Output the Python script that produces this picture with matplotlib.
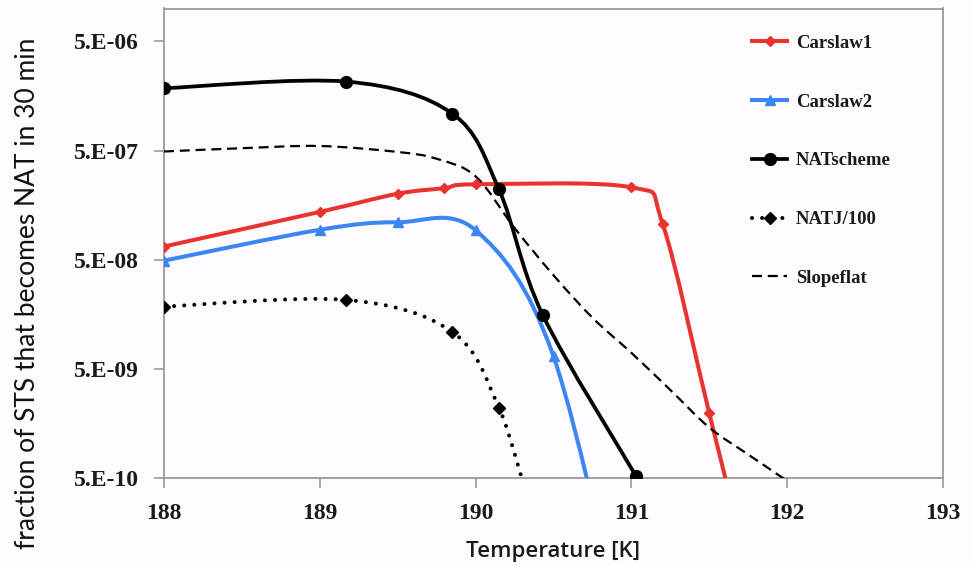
import numpy as np
import matplotlib
matplotlib.use('Agg')
import matplotlib.pyplot as plt
from matplotlib.path import Path
from matplotlib.patches import PathPatch
from matplotlib.lines import Line2D

# ---------------- data ----------------
temps_carslaw1 = [188.0, 189.0, 189.5, 189.8, 190.0, 191.0, 191.2, 191.5, 191.7]
carslaw1 = [6.6e-8, 1.37e-7, 2.01e-7, 2.26e-7, 2.45e-7, 2.3e-7, 1.07e-7, 1.95e-9, 1.4e-10]

temps_carslaw2 = [188.0, 189.0, 189.5, 190.0, 190.5, 191.0]
carslaw2 = [4.9e-8, 9.4e-8, 1.1e-7, 9.3e-8, 6.5e-9, 8e-12]

temps_nat = [188.0, 189.17, 189.85, 190.15, 190.43, 191.03]
natscheme = [1.86e-6, 2.14e-6, 1.09e-6, 2.2e-7, 1.57e-8, 5.2e-10]
natj100 = [1.86e-8, 2.14e-8, 1.09e-8, 2.2e-9, 1.57e-10, 5.2e-12]

temps_slope = [188.0, 188.5, 189.0, 189.5, 189.75, 190.0, 190.25, 190.5, 190.75,
               191.0, 191.25, 191.5, 191.75, 192.0]
slopeflat = [4.9e-7, 5.25e-7, 5.5e-7, 4.85e-7, 4.2e-7, 2.9e-7, 9.75e-8, 3.6e-8, 1.47e-8,
             7.0e-9, 3.2e-9, 1.45e-9, 8.2e-10, 4.7e-10]

series_labels = ['Carslaw1', 'Carslaw2', 'NATscheme', 'NATJ/100', 'Slopeflat']
x_ticks = [188, 189, 190, 191, 192, 193]
y_ticks = [5e-10, 5e-9, 5e-8, 5e-7, 5e-6]
y_tick_labels = ['5.E-10', '5.E-09', '5.E-08', '5.E-07', '5.E-06']

RED = '#e8332f'
BLUE = '#3a86f5'
BLACK = '#000000'
BG = '#fefcfe'


def smooth_path(x, y):
    """Excel-like smoothed line (Catmull-Rom Bezier) in (x, log y) space."""
    P = np.column_stack([np.asarray(x, float), np.log10(np.asarray(y, float))])
    n = len(P)
    verts = [P[0]]
    codes = [Path.MOVETO]
    for i in range(n - 1):
        p0 = P[i - 1] if i > 0 else P[i]
        p1 = P[i]
        p2 = P[i + 1]
        p3 = P[i + 2] if i + 2 < n else P[i + 1]
        c1 = p1 + (p2 - p0) / 6.0
        c2 = p2 - (p3 - p1) / 6.0
        verts += [c1, c2, p2]
        codes += [Path.CURVE4] * 3
    V = np.array(verts)
    V[:, 1] = 10 ** V[:, 1]
    return Path(V, codes)


fig = plt.figure(figsize=(9.73, 5.65), dpi=100, facecolor=BG)
ax = fig.add_axes([164 / 973, 1 - 478 / 565, (943 - 164) / 973, (478 - 8.5) / 565])
ax.set_facecolor(BG)
ax.set_yscale('log')
ax.set_xlim(188, 193)
ax.set_ylim(5e-10, 1e-5)

styles = [
    dict(x=temps_carslaw1, y=carslaw1, color=RED, lw=2.9, ls='-', marker='D', ms=5.5),
    dict(x=temps_carslaw2, y=carslaw2, color=BLUE, lw=2.9, ls='-', marker='^', ms=7),
    dict(x=temps_nat, y=natscheme, color=BLACK, lw=2.7, ls='-', marker='o', ms=8.5),
    dict(x=temps_nat, y=natj100, color=BLACK, lw=2.9, ls=(0, (0.01, 2.5)), marker='D', ms=6),
    dict(x=temps_slope, y=slopeflat, color=BLACK, lw=1.6, ls=(0, (4.5, 2.6)), marker=None, ms=0),
]

handles = []
for st, lab in zip(styles, series_labels):
    patch = PathPatch(smooth_path(st['x'], st['y']), fill=False, edgecolor=st['color'],
                      lw=st['lw'], linestyle=st['ls'], transform=ax.transData,
                      capstyle='round' if lab == 'NATJ/100' else 'butt',
                      joinstyle='round', zorder=3)
    ax.add_patch(patch)
    if st['marker']:
        ax.plot(st['x'], st['y'], linestyle='none', marker=st['marker'], ms=st['ms'],
                color=st['color'], zorder=4)
    h = Line2D([], [], color=st['color'], lw=st['lw'], linestyle=st['ls'],
               marker=st['marker'] if st['marker'] else None, ms=st['ms'],
               dash_capstyle='round' if lab == 'NATJ/100' else 'butt')
    handles.append(h)

ax.set_xticks(x_ticks)
ax.set_xticklabels([str(t) for t in x_ticks])
ax.set_yticks(y_ticks)
ax.set_yticklabels(y_tick_labels)
ax.yaxis.set_minor_locator(matplotlib.ticker.NullLocator())

for lbl in ax.get_xticklabels() + ax.get_yticklabels():
    lbl.set_fontfamily('Liberation Serif')
    lbl.set_fontweight('bold')
    lbl.set_fontsize(17)
    lbl.set_color('#1a1a1a')

ax.tick_params(axis='both', direction='out', length=7, width=1.2, color='#9a9a9a')
ax.tick_params(axis='y', pad=11)
ax.tick_params(axis='x', pad=11)

for sp in ax.spines.values():
    sp.set_color('#9a9a9a')
    sp.set_linewidth(1.3)

ax.set_xlabel('Temperature [K]', fontfamily='Open Sans', fontweight='semibold',
              fontsize=16, color='#1a1a1a')
ax.xaxis.set_label_coords(0.5, (478 - 551) / 469.5)
ax.xaxis.label.set_va('center')

ax.set_ylabel('fraction of STS that becomes NAT in 30 min', fontfamily='Lato',
              fontsize=19, color='#111111', va='center')
ax.yaxis.set_label_coords((28 - 164) / 779, (478 - 293) / 469.5)

leg = ax.legend(handles, series_labels, loc='upper left',
                bbox_to_anchor=((751.7 - 164) / 779, (478 - 34.7) / 469.5),
                frameon=False, borderpad=0, borderaxespad=0,
                handlelength=1.9, handletextpad=0.45, labelspacing=2.22,
                prop={'family': 'Liberation Serif', 'weight': 'bold', 'size': 13.5})
for t in leg.get_texts():
    t.set_color('#1a1a1a')

fig.savefig('out.png', dpi=100, facecolor=BG)
